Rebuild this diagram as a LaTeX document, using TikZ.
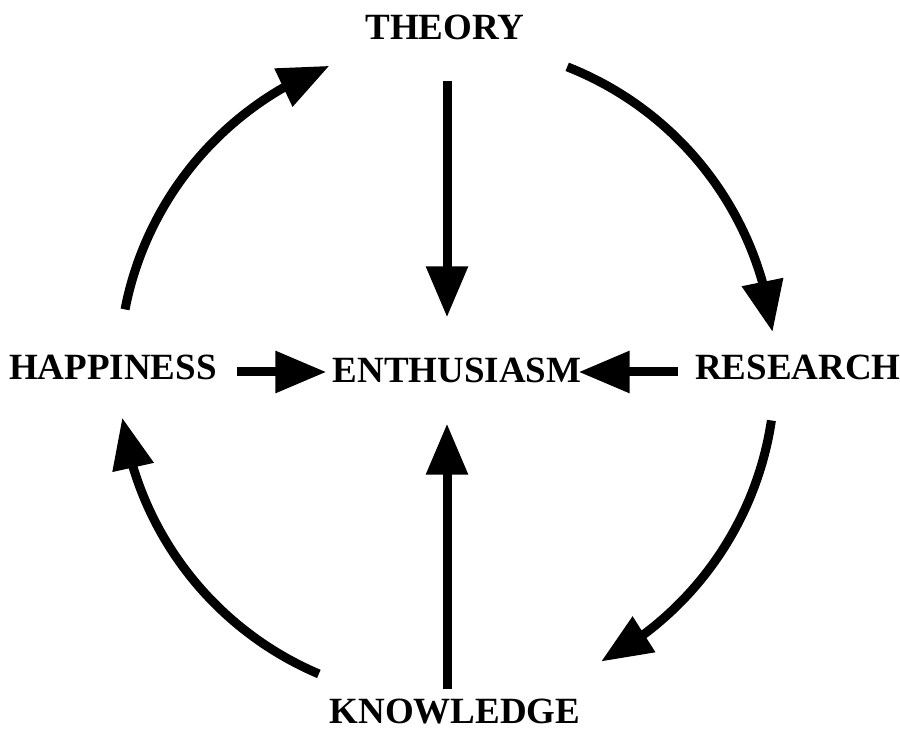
\documentclass[tikz,border=0pt]{standalone}
\usepackage{fontspec}
\setmainfont{Liberation Serif}
\usetikzlibrary{arrows.meta,bending}

\begin{document}
\begin{tikzpicture}[x=1pt,y=1pt,
  word/.style={inner sep=0pt,font=\fontsize{37}{44}\selectfont\bfseries},
  flow/.style={line width=9pt,-{Triangle[length=51pt,width=40pt]}}]
\useasboundingbox (0,0) rectangle (900,731);
\coordinate (hub) at (447,359);
\node[word] (theory)   at (445,704) {THEORY};
\node[word] (happy)    at (113,364) {HAPPINESS};
\node[word] (enth)     at (457,361) {ENTHUSIASM};
\node[word] (research) at (798,364) {RESEARCH};
\node[word] (know)     at (455,19)  {KNOWLEDGE};
% spokes into the middle
\draw[flow,shorten <=10pt,shorten >=41pt] (hub |- know.north) -- (hub |- enth.south);
\draw[flow,shorten <=41pt,shorten >=40pt] (hub |- theory.south) -- (hub |- enth.north);
\draw[flow,shorten <=20pt,shorten >=6pt] (happy.east |- hub) -- (enth.west |- hub);
\draw[flow,shorten <=17pt,shorten >=-3pt] (research.west |- hub) -- (enth.east |- hub);
% the outer cycle
\foreach \from/\to in {68.5/7,-8.5/-62,247/188,169/111}{
  \draw[flow] ([shift={(\from:328)}]hub) arc[start angle=\from,end angle=\to,radius=328];
}
\end{tikzpicture}
\end{document}
